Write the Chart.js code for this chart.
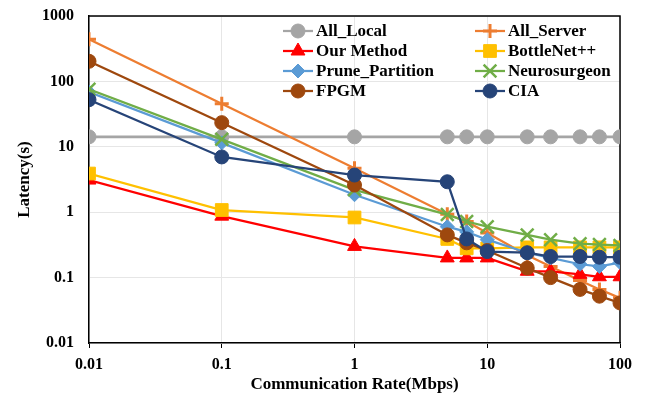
<!DOCTYPE html>
<html>
<head>
<meta charset="utf-8">
<script src="https://cdn.jsdelivr.net/npm/chart.js@4.4.0/dist/chart.umd.min.js"></script>
<style>
  html, body { margin: 0; padding: 0; background: #fff; }
  #wrap { width: 646px; height: 401px; }
</style>
</head>
<body>
<div id="wrap"><canvas id="grafico" width="646" height="401"></canvas></div>
<script>
// Taxas de comunicação (Mbps)
const taxas = [0.01, 0.1, 1, 5, 7, 10, 20, 30, 50, 70, 100];

// Latência (s) de cada método
const allLocal = [14.2, 14.2, 14.2, 14.2, 14.2, 14.2, 14.2, 14.2, 14.2, 14.2, 14.2];
const allServer = [440, 45.6, 4.7, 0.93, 0.72, 0.48, 0.22, 0.148, 0.09, 0.066, 0.049];
const ourMethod = [3.1, 0.87, 0.3, 0.2, 0.2, 0.2, 0.125, 0.125, 0.112, 0.103, 0.103];
const bottleNet = [3.9, 1.08, 0.83, 0.39, 0.28, 0.28, 0.29, 0.29, 0.29, 0.29, 0.29];
const prunePartition = [69, 11.5, 1.85, 0.6, 0.5, 0.38, 0.24, 0.2, 0.16, 0.148, 0.17];
const neurosurgeon = [76, 13, 2.2, 0.92, 0.72, 0.6, 0.45, 0.38, 0.33, 0.32, 0.31];
const fpgm = [203, 23.4, 2.6, 0.45, 0.34, 0.26, 0.14, 0.1, 0.066, 0.052, 0.041];
const cia = [52.5, 7.0, 3.7, 2.92, 0.39, 0.25, 0.24, 0.21, 0.21, 0.205, 0.205];

// Rótulos dos eixos
const ticksX = [0.01, 0.1, 1, 10, 100];
const ticksY = [0.01, 0.1, 1, 10, 100, 1000];

const series = [
    { label: 'All_Local', data: allLocal, cor: '#A5A5A5', estilo: 'circle', raio: 7, borda: 1 },
    { label: 'All_Server', data: allServer, cor: '#ED7D31', estilo: 'cross', raio: 7, borda: 3 },
    { label: 'Our Method', data: ourMethod, cor: '#FF0000', estilo: 'triangle', raio: 8, borda: 1 },
    { label: 'BottleNet++', data: bottleNet, cor: '#FFC000', estilo: 'rect', raio: 9, borda: 1 },
    { label: 'Prune_Partition', data: prunePartition, cor: '#5B9BD5', estilo: 'rectRot', raio: 7, borda: 1 },
    { label: 'Neurosurgeon', data: neurosurgeon, cor: '#70AD47', estilo: 'crossRot', raio: 9, borda: 2.5 },
    { label: 'FPGM', data: fpgm, cor: '#9E480E', estilo: 'circle', raio: 7, borda: 1 },
    { label: 'CIA', data: cia, cor: '#264478', estilo: 'circle', raio: 7, borda: 1 },
];

const fonte = '"Liberation Serif", "Times New Roman", serif';
Chart.defaults.font.family = fonte;
Chart.defaults.font.weight = 'bold';
Chart.defaults.color = '#000';

// Moldura superior e direita
const molduraPlugin = {
    id: 'moldura',
    beforeDatasetsDraw(chart) {
        const { ctx, chartArea } = chart;
        ctx.save();
        ctx.strokeStyle = '#000';
        ctx.lineWidth = 1.5;
        ctx.beginPath();
        ctx.moveTo(chartArea.left, chartArea.top);
        ctx.lineTo(chartArea.right, chartArea.top);
        ctx.lineTo(chartArea.right, chartArea.bottom);
        ctx.stroke();
        ctx.restore();
    }
};

// Legenda em duas colunas dentro do gráfico
const legendaPlugin = {
    id: 'legendaDuasColunas',
    afterDraw(chart) {
        const { ctx, chartArea } = chart;
        ctx.save();
        ctx.font = 'bold 17px ' + fonte;
        ctx.textBaseline = 'middle';
        ctx.textAlign = 'left';
        chart.data.datasets.forEach((ds, i) => {
            const col = i % 2;
            const row = Math.floor(i / 2);
            const x0 = chartArea.left + (col === 0 ? 194 : 386);
            const y = chartArea.top + 15 + row * 20;
            ctx.strokeStyle = ds.borderColor;
            ctx.lineWidth = 2.25;
            ctx.beginPath();
            ctx.moveTo(x0, y);
            ctx.lineTo(x0 + 30, y);
            ctx.stroke();
            ctx.fillStyle = ds.pointBackgroundColor;
            ctx.strokeStyle = ds.pointBorderColor;
            ctx.lineWidth = ds.pointBorderWidth;
            Chart.helpers.drawPoint(ctx, {
                pointStyle: ds.pointStyle,
                radius: ds.pointRadius,
                rotation: 0,
                borderWidth: ds.pointBorderWidth
            }, x0 + 15, y);
            ctx.fillStyle = '#000';
            ctx.fillText(ds.label, x0 + 33, y + 1);
        });
        ctx.restore();
    }
};

new Chart(document.getElementById('grafico'), {
    type: 'line',
    data: {
        datasets: series.map((s, i) => ({
            label: s.label,
            data: taxas.map((x, j) => ({ x: x, y: s.data[j] })),
            borderColor: s.cor,
            backgroundColor: s.cor,
            borderWidth: i === 0 ? 2.75 : 2.25,
            pointStyle: s.estilo,
            pointRadius: s.raio,
            pointBackgroundColor: s.cor,
            pointBorderColor: s.cor,
            pointBorderWidth: s.borda,
            tension: 0,
            order: series.length - i,
        }))
    },
    options: {
        responsive: false,
        animation: false,
        layout: { padding: { top: 16, right: 26, left: 0, bottom: 0 } },
        plugins: {
            legend: { display: false },
            tooltip: { enabled: false }
        },
        scales: {
            x: {
                type: 'logarithmic',
                min: 0.01,
                max: 100,
                afterBuildTicks: (scale) => { scale.ticks = ticksX.map(v => ({ value: v })); },
                afterFit: (scale) => { scale.height = 58; },
                ticks: {
                    font: { size: 16, weight: 'bold' },
                    padding: 7,
                    maxRotation: 0,
                    autoSkip: false,
                    callback: (v) => String(v)
                },
                grid: { color: '#E6E6E6', tickColor: '#000', tickLength: 5, lineWidth: 1 },
                border: { color: '#000', width: 1.5 },
                title: {
                    display: true,
                    text: 'Communication Rate(Mbps)',
                    font: { size: 17, weight: 'bold' },
                    padding: { top: 0, bottom: 6 }
                }
            },
            y: {
                type: 'logarithmic',
                min: 0.01,
                max: 1000,
                afterBuildTicks: (scale) => { scale.ticks = ticksY.map(v => ({ value: v })); },
                afterFit: (scale) => {
                    scale.width = 89;
                    scale.paddingTop = 10;
                    scale.paddingBottom = 10;
                },
                ticks: {
                    font: { size: 16, weight: 'bold' },
                    padding: 15,
                    autoSkip: false,
                    callback: (v) => String(v)
                },
                grid: { color: '#E6E6E6', drawTicks: false, lineWidth: 1 },
                border: { color: '#000', width: 1.5 },
                title: {
                    display: true,
                    text: 'Latency(s)',
                    font: { size: 17, weight: 'bold' },
                    padding: { top: 14, bottom: 0 }
                }
            }
        }
    },
    plugins: [molduraPlugin, legendaPlugin]
});
</script>
</body>
</html>
